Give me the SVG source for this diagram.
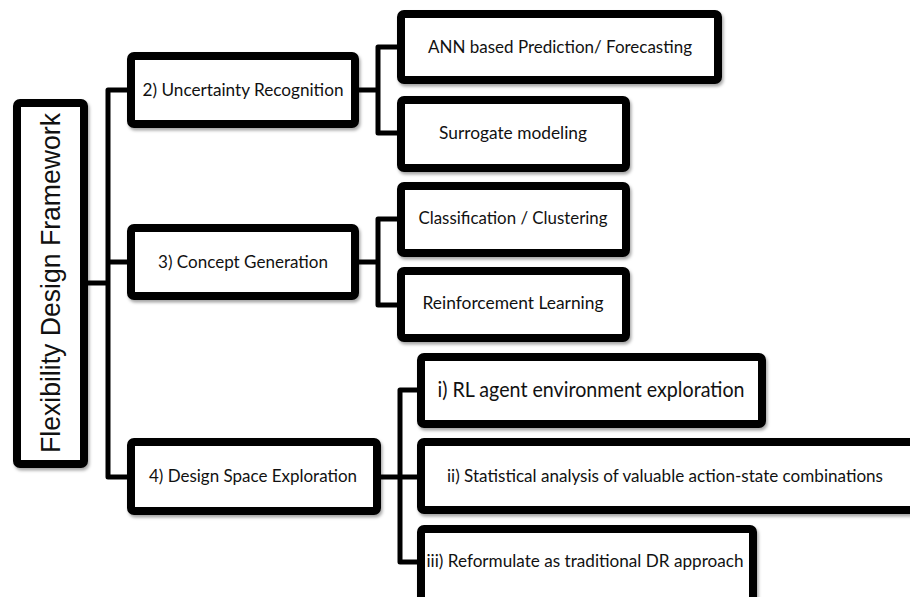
<svg xmlns="http://www.w3.org/2000/svg" width="910" height="597" viewBox="0 0 910 597">
  <defs>
    <filter id="sh" x="-10%" y="-10%" width="125%" height="130%">
      <feDropShadow dx="1.5" dy="2.5" stdDeviation="1.6" flood-color="#000" flood-opacity="0.35"/>
    </filter>
  </defs>
  <style>
    .box { fill: #fff; stroke: #000; stroke-width: 8; stroke-linejoin: round; filter: url(#sh); }
    .lbl { font-family: Lato, "Open Sans", "Liberation Sans", sans-serif; font-size: 17px; fill: #111; text-anchor: middle; }
    .big { font-size: 21px; }
    .root { font-family: "Liberation Sans", Arial, sans-serif; font-size: 28px; fill: #111; text-anchor: middle; }
    .con { fill: none; stroke: #000; stroke-width: 5; stroke-linejoin: round; }
  </style>
  <rect width="910" height="597" fill="#fff"/>

  <g id="connectors">
    <path class="con" d="M88,283 H108"/>
    <path class="con" d="M127,90 H108 V477 H127"/>
    <path class="con" d="M108,262 H127"/>
    <path class="con" d="M359,90 H378"/>
    <path class="con" d="M397,47 H378 V133 H397"/>
    <path class="con" d="M359,262 H378"/>
    <path class="con" d="M397,219 H378 V305 H397"/>
    <path class="con" d="M381,477 H400"/>
    <path class="con" d="M417,390 H400 V562 H417"/>
    <path class="con" d="M400,477 H417"/>
  </g>

  <g id="root">
    <rect class="box" x="17" y="103" width="67" height="361" rx="3"/>
    <text class="root" transform="translate(60,283) rotate(-90)" x="0" y="0" textLength="340" lengthAdjust="spacingAndGlyphs">Flexibility Design Framework</text>
  </g>

  <g id="uncertainty">
    <rect class="box" x="131" y="56" width="224" height="68" rx="3"/>
    <text class="lbl" x="243" y="96" textLength="201" lengthAdjust="spacingAndGlyphs">2) Uncertainty Recognition</text>
  </g>
  <g id="concept">
    <rect class="box" x="131" y="228" width="224" height="68" rx="3"/>
    <text class="lbl" x="243" y="268" textLength="170" lengthAdjust="spacingAndGlyphs">3) Concept Generation</text>
  </g>
  <g id="dse">
    <rect class="box" x="131" y="442" width="246" height="69" rx="3"/>
    <text class="lbl" x="253" y="482" textLength="208" lengthAdjust="spacingAndGlyphs">4) Design Space Exploration</text>
  </g>

  <g id="ann">
    <rect class="box" x="401" y="14" width="317" height="66" rx="3"/>
    <text class="lbl" x="560" y="53" textLength="264" lengthAdjust="spacingAndGlyphs">ANN based Prediction/ Forecasting</text>
  </g>
  <g id="surrogate">
    <rect class="box" x="401" y="100" width="225" height="68" rx="3"/>
    <text class="lbl" x="513" y="139" textLength="148" lengthAdjust="spacingAndGlyphs">Surrogate modeling</text>
  </g>
  <g id="classification">
    <rect class="box" x="401" y="186" width="225" height="67" rx="3"/>
    <text class="lbl" x="513" y="224" textLength="189" lengthAdjust="spacingAndGlyphs">Classification / Clustering</text>
  </g>
  <g id="reinforcement">
    <rect class="box" x="401" y="271" width="225" height="67" rx="3"/>
    <text class="lbl" x="513" y="309" textLength="181" lengthAdjust="spacingAndGlyphs">Reinforcement Learning</text>
  </g>

  <g id="rl-agent">
    <rect class="box" x="421" y="357" width="341" height="67" rx="3"/>
    <text class="lbl big" x="591" y="397" textLength="307" lengthAdjust="spacingAndGlyphs">i) RL agent environment exploration</text>
  </g>
  <g id="statistical">
    <rect class="box" x="421" y="442" width="495" height="68" rx="3"/>
    <text class="lbl" x="665" y="482" textLength="436" lengthAdjust="spacingAndGlyphs">ii) Statistical analysis of valuable action-state combinations</text>
  </g>
  <g id="reformulate">
    <rect class="box" x="421" y="529" width="332" height="80" rx="3"/>
    <text class="lbl" x="585" y="567" textLength="317" lengthAdjust="spacingAndGlyphs">iii) Reformulate as traditional DR approach</text>
  </g>
</svg>
